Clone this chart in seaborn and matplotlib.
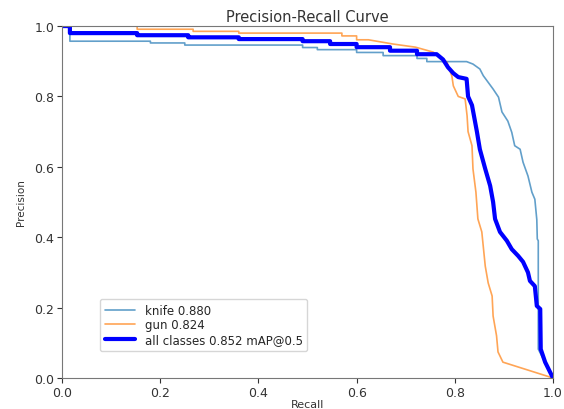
import pandas as pd
import matplotlib
matplotlib.use("Agg")
import matplotlib.pyplot as plt
import seaborn as sns

# PR curve points (recall, precision)
knife_recall = [0.0, 0.016, 0.016, 0.18, 0.18, 0.25, 0.25, 0.49, 0.49, 0.52, 0.52, 0.60, 0.60,
                0.654, 0.654, 0.723, 0.723, 0.743, 0.743, 0.824, 0.837, 0.851, 0.858, 0.868,
                0.878, 0.889, 0.896, 0.908, 0.916, 0.922, 0.933, 0.939, 0.949, 0.957, 0.963,
                0.967, 0.968, 0.970, 0.970, 1.0]
knife_precision = [1.0, 1.0, 0.957, 0.957, 0.952, 0.952, 0.946, 0.946, 0.939, 0.939, 0.933, 0.933, 0.925,
                   0.925, 0.916, 0.916, 0.908, 0.908, 0.899, 0.899, 0.892, 0.878, 0.859, 0.84,
                   0.821, 0.798, 0.756, 0.73, 0.698, 0.66, 0.65, 0.613, 0.574, 0.528, 0.508,
                   0.45, 0.395, 0.39, 0.082, 0.0]

gun_recall = [0.0, 0.153, 0.153, 0.267, 0.267, 0.36, 0.36, 0.57, 0.57, 0.60, 0.60, 0.624, 0.674,
              0.72, 0.756, 0.776, 0.784, 0.794, 0.797, 0.807, 0.821, 0.825, 0.827, 0.835, 0.837,
              0.843, 0.847, 0.855, 0.862, 0.868, 0.876, 0.878, 0.885, 0.888, 0.898, 1.0]
gun_precision = [1.0, 1.0, 0.991, 0.991, 0.985, 0.985, 0.98, 0.98, 0.972, 0.972, 0.961, 0.961, 0.949,
                 0.94, 0.926, 0.906, 0.897, 0.858, 0.83, 0.80, 0.793, 0.745, 0.70, 0.66, 0.594,
                 0.528, 0.452, 0.415, 0.318, 0.27, 0.233, 0.176, 0.12, 0.074, 0.045, 0.0]

all_recall = [0.0, 0.016, 0.016, 0.153, 0.153, 0.257, 0.257, 0.36, 0.36, 0.49, 0.49, 0.546, 0.546,
              0.60, 0.60, 0.668, 0.668, 0.723, 0.723, 0.763, 0.776, 0.786, 0.797, 0.807, 0.824,
              0.827, 0.835, 0.845, 0.851, 0.862, 0.872, 0.878, 0.882, 0.892, 0.906, 0.916,
              0.929, 0.939, 0.949, 0.953, 0.963, 0.967, 0.974, 0.975, 0.984, 1.0]
all_precision = [1.0, 1.0, 0.98, 0.98, 0.974, 0.974, 0.968, 0.968, 0.963, 0.963, 0.957, 0.957, 0.949,
                 0.949, 0.94, 0.94, 0.93, 0.93, 0.92, 0.92, 0.905, 0.883, 0.866, 0.855, 0.85,
                 0.80, 0.775, 0.70, 0.65, 0.594, 0.546, 0.50, 0.452, 0.415, 0.39, 0.366,
                 0.347, 0.33, 0.30, 0.276, 0.261, 0.205, 0.196, 0.082, 0.045, 0.0]

labels = ["knife 0.880", "gun 0.824", "all classes 0.852 mAP@0.5"]

sns.set_style("ticks")

fig, ax = plt.subplots(figsize=(5.64, 4.10), dpi=100)

knife = pd.DataFrame({"recall": knife_recall, "precision": knife_precision})
gun = pd.DataFrame({"recall": gun_recall, "precision": gun_precision})
allc = pd.DataFrame({"recall": all_recall, "precision": all_precision})

sns.lineplot(data=knife, x="recall", y="precision", sort=False, estimator=None,
             color="tab:blue", alpha=0.7, linewidth=1.2, label=labels[0], ax=ax)
sns.lineplot(data=gun, x="recall", y="precision", sort=False, estimator=None,
             color="tab:orange", alpha=0.7, linewidth=1.2, label=labels[1], ax=ax)
sns.lineplot(data=allc, x="recall", y="precision", sort=False, estimator=None,
             color="blue", linewidth=3, label=labels[2], ax=ax)

ax.set_xlim(0, 1)
ax.set_ylim(0, 1)
ax.set_xticks([0.0, 0.2, 0.4, 0.6, 0.8, 1.0])
ax.set_yticks([0.0, 0.2, 0.4, 0.6, 0.8, 1.0])
ax.tick_params(labelsize=9, colors="#333333", pad=2)
ax.set_xlabel("Recall", fontsize=8, color="#333333", labelpad=0)
ax.set_ylabel("Precision", fontsize=7.5, color="#333333", labelpad=6)
ax.set_title("Precision-Recall Curve", fontsize=10.5, color="#333333", pad=4)
for s in ax.spines.values():
    s.set_color("#777777")

ax.legend(loc="lower left", bbox_to_anchor=(0.065, 0.06), fontsize=8.5,
          labelspacing=0.15, handlelength=2.6, borderpad=0.4)

fig.subplots_adjust(left=0.11, right=0.9805, top=0.934, bottom=0.0756)
fig.savefig("out.png", dpi=100)
